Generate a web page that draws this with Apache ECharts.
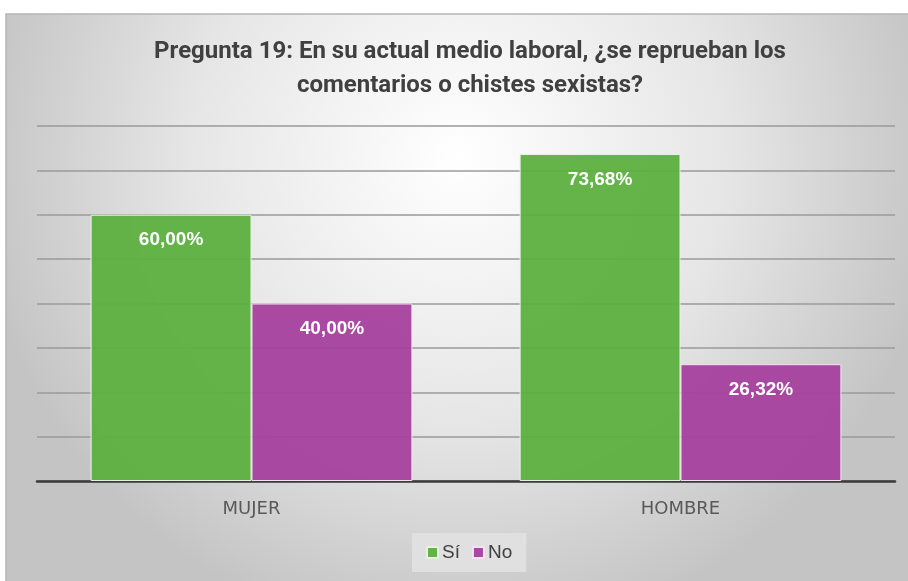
<!DOCTYPE html>
<html>
<head>
<meta charset="utf-8">
<script src="https://cdn.jsdelivr.net/npm/echarts@6/dist/echarts.min.js"></script>
<style>
  html, body { margin: 0; padding: 0; background: #fff; }
  #main { width: 908px; height: 581px; }
</style>
</head>
<body>
<div id="main"></div>
<script>
// data
var categories = ['MUJER', 'HOMBRE'];
var seriesNames = ['Sí', 'No'];
var siValues = [60.00, 73.68];
var noValues = [40.00, 26.32];
var yTicks = [0, 10, 20, 30, 40, 50, 60, 70, 80];

var chart = echarts.init(document.getElementById('main'), null, { renderer: 'canvas' });

function pct(p) {
  return p.value.toFixed(2).replace('.', ',') + '%';
}

var labelStyle = {
  show: true,
  position: 'insideTop',
  distance: 16,
  color: '#ffffff',
  fontFamily: 'Liberation Sans',
  fontWeight: 'bold',
  fontSize: 19,
  formatter: pct
};

var option = {
  animation: false,
  graphic: [{
    type: 'rect',
    z: -10,
    shape: { x: 6, y: 14, width: 904, height: 570 },
    style: {
      fill: new echarts.graphic.RadialGradient(0.5, 0.25, 0.85, [
        { offset: 0, color: '#ffffff' },
        { offset: 0.55, color: '#e6e6e6' },
        { offset: 1, color: '#c4c4c4' }
      ]),
      stroke: '#b5b5b5',
      lineWidth: 1.5
    }
  }],
  title: {
    text: 'Pregunta 19: En su actual medio laboral, ¿se reprueban los\ncomentarios o chistes sexistas?',
    left: 465,
    top: 30,
    textAlign: 'center',
    textStyle: {
      fontFamily: 'Roboto',
      fontWeight: 'bold',
      fontSize: 24,
      lineHeight: 34,
      color: '#404040'
    }
  },
  legend: {
    data: seriesNames,
    bottom: 9,
    left: 412,
    itemWidth: 11,
    itemHeight: 11,
    itemGap: 12,
    icon: 'rect',
    padding: [10, 14, 10, 14],
    backgroundColor: '#e0e0e0',
    textStyle: { fontFamily: 'Liberation Sans', fontSize: 19, color: '#404040', padding: [0, 0, 0, -1] }
  },
  grid: { left: 37, right: 13, top: 126, bottom: 100 },
  xAxis: {
    type: 'category',
    data: categories,
    axisLine: { lineStyle: { color: '#3a3a3a', width: 2.5 } },
    axisTick: { show: false },
    axisLabel: { color: '#595959', fontFamily: 'DejaVu Sans', fontSize: 18, margin: 19 }
  },
  yAxis: {
    type: 'value',
    min: yTicks[0],
    max: yTicks[yTicks.length - 1],
    interval: 10,
    axisLabel: { show: false },
    axisLine: { show: false },
    axisTick: { show: false },
    splitLine: { lineStyle: { color: '#9a9a9a', width: 1.5 } }
  },
  series: [
    {
      name: seriesNames[0],
      type: 'bar',
      data: siValues,
      barGap: '0%',
      barCategoryGap: '25%',
      itemStyle: { color: 'rgba(92,176,64,0.95)', borderColor: '#e8f0e4', borderWidth: 1 },
      label: labelStyle
    },
    {
      name: seriesNames[1],
      type: 'bar',
      data: noValues,
      itemStyle: { color: 'rgba(166,64,158,0.95)', borderColor: '#f0e4ee', borderWidth: 1 },
      label: labelStyle
    }
  ]
};

chart.setOption(option);
</script>
</body>
</html>
